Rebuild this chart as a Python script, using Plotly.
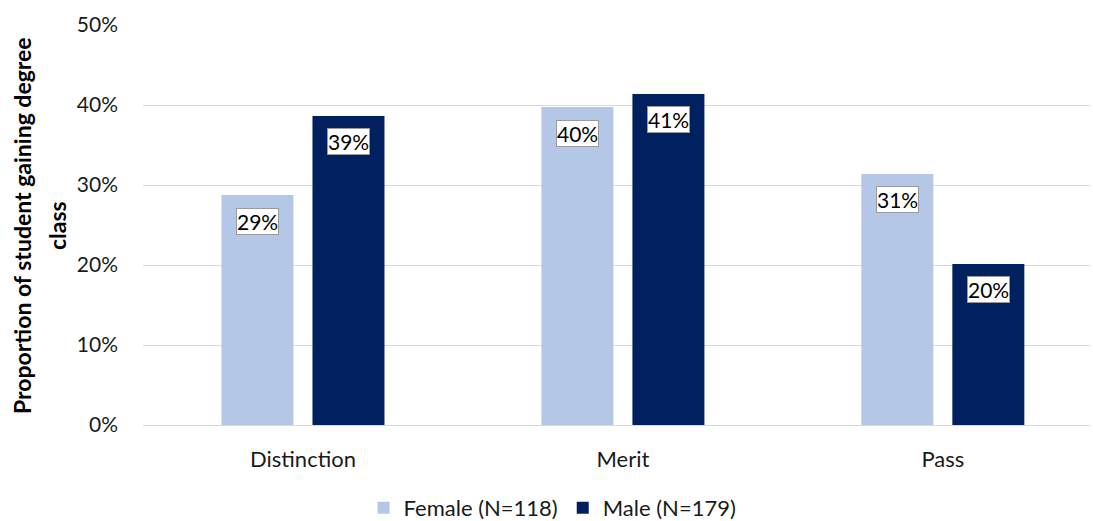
import plotly.graph_objects as go

categories = ["Distinction", "Merit", "Pass"]
female = [0.2875, 0.3975, 0.3138]
male = [0.3863, 0.4138, 0.2013]
female_name = "Female (N=118)"
male_name = "Male (N=179)"
y_title_lines = ["Proportion of student gaining degree", "class"]
female_color = "#b4c7e7"
male_color = "#002060"
font_family = "Lato, 'Open Sans', sans-serif"

fig = go.Figure()
fig.add_trace(go.Bar(x=categories, y=female, name=female_name,
                     marker=dict(color=female_color, line=dict(width=0))))
fig.add_trace(go.Bar(x=categories, y=male, name=male_name,
                     marker=dict(color=male_color, line=dict(width=0))))

# value labels in white boxes just below each bar top
offset = 0.142
for series, shift in ((female, -offset), (male, offset)):
    for i, v in enumerate(series):
        fig.add_annotation(
            x=i + shift, y=v, xref="x", yref="y",
            text=f"{round(v * 100):.0f}%", showarrow=False,
            yshift=-26, font=dict(family=font_family, size=21, color="#000"),
            bgcolor="white", bordercolor="#9a9a9a", borderwidth=1, borderpad=0,
        )

# rotated two-line y-axis title
for line, xs in zip(y_title_lines, (-121, -86)):
    fig.add_annotation(
        x=0, xref="paper", xshift=xs, y=0.5, yref="paper", yshift=-1,
        text=f"<b>{line}</b>", textangle=-90, showarrow=False,
        xanchor="center", yanchor="middle",
        font=dict(family=font_family, size=23, color="#000"),
    )

fig.update_layout(
    width=1093, height=521,
    margin=dict(l=143, r=3, t=25, b=96, autoexpand=False),
    paper_bgcolor="white", plot_bgcolor="white",
    barmode="group", bargap=0.431, bargroupgap=0.209,
    font=dict(family=font_family, size=22, color="#1a1a1a"),
    legend=dict(orientation="h", x=0.4325, xanchor="center",
                y=0.025, yref="container", yanchor="middle",
                font=dict(size=22), itemwidth=30, traceorder="normal"),
    xaxis=dict(range=[-0.5, 2.46], showgrid=False, showline=False,
               automargin=False, ticks="", ticklabelstandoff=19,
               tickfont=dict(size=22)),
    yaxis=dict(range=[0, 0.5], dtick=0.1, tickformat=".0%",
               showgrid=True, gridcolor="#d9d9d9", gridwidth=1,
               zeroline=True, zerolinecolor="#d9d9d9", zerolinewidth=1,
               automargin=False, ticks="", ticklabelstandoff=24,
               tickfont=dict(size=21)),
)

fig.write_html("out.html")
